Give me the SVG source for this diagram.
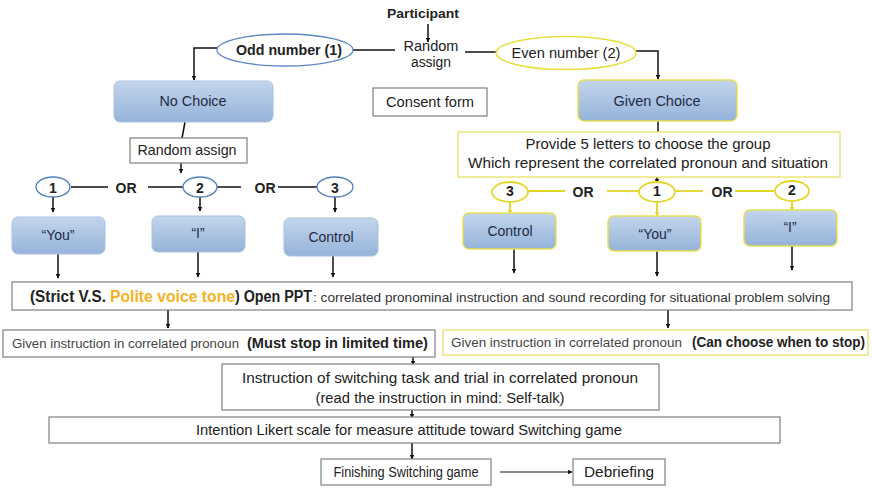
<svg xmlns="http://www.w3.org/2000/svg" width="872" height="488" viewBox="0 0 872 488">
<defs>
  <linearGradient id="blueFill" x1="0" y1="0" x2="0" y2="1">
    <stop offset="0" stop-color="#c3d5ec"/>
    <stop offset="1" stop-color="#95b3d9"/>
  </linearGradient>
  <marker id="arr" viewBox="0 0 10 10" refX="9" refY="5" markerWidth="5" markerHeight="5" orient="auto" markerUnits="userSpaceOnUse">
    <path d="M0,0 L10,5 L0,10 z" fill="#111"/>
  </marker>
  <marker id="arrY" viewBox="0 0 10 10" refX="9" refY="5" markerWidth="5" markerHeight="5" orient="auto" markerUnits="userSpaceOnUse">
    <path d="M0,0 L10,5 L0,10 z" fill="#e3d42a"/>
  </marker>
</defs>
<style>
  text { font-family: "Liberation Sans", Arial, sans-serif; fill: #222; }
  .lbl { font-size: 14px; text-anchor: middle; }
  .node { font-size: 14px; text-anchor: middle; fill: #1f2a44; }
  .b { font-weight: bold; }
  .sm { font-size: 12px; fill: #444; }
  .bluebox { fill: url(#blueFill); stroke: #a9c1e0; stroke-width: 1; }
  .ybox { fill: url(#blueFill); stroke: #e6df55; stroke-width: 1.5; }
  .plain { fill: #fff; stroke: #7f7f7f; stroke-width: 1.2; }
  .plainY { fill: #fff; stroke: #ebe57a; stroke-width: 1.5; }
  .conn line, .conn polyline { stroke: #111; stroke-width: 1.5; fill: none; }
  .conn .y { stroke: #e3d42a; stroke-width: 1.8; }
  .conn .thin { stroke-width: 1; }
  .a { marker-end: url(#arr); }
  .ay { marker-end: url(#arrY); }
</style>

<rect width="872" height="488" fill="#fff"/>

<!-- connectors -->
<g id="connectors" class="conn">
  <line class="a" x1="428" y1="24" x2="428" y2="42"/>
  <line x1="353" y1="50" x2="395" y2="50"/>
  <line x1="465" y1="52" x2="496" y2="52"/>
  <polyline class="a" points="218,48 194,48 194,80"/>
  <polyline class="a" points="635,51 658,51 658,79"/>
  <line x1="185" y1="122" x2="182" y2="138"/>
  <line class="a" x1="181" y1="163" x2="181" y2="173"/>
  <!-- left OR lines -->
  <line x1="71" y1="187" x2="108" y2="187"/>
  <line x1="148" y1="187" x2="183" y2="187"/>
  <line x1="217" y1="187" x2="241" y2="187"/>
  <line x1="278" y1="187" x2="318" y2="187"/>
  <line class="a" x1="53" y1="197" x2="53" y2="212"/>
  <line class="a" x1="200" y1="197" x2="200" y2="211"/>
  <line class="a" x1="335" y1="197" x2="335" y2="212"/>
  <line class="a" x1="58" y1="254" x2="58" y2="278"/>
  <line class="a" x1="198" y1="252" x2="198" y2="277"/>
  <line class="a" x1="333" y1="256" x2="333" y2="277"/>
  <!-- right -->
  <line x1="658" y1="121" x2="658" y2="132"/>
  <line class="a" x1="657" y1="157" x2="657" y2="183"/>
  <line class="y" x1="528" y1="191" x2="565" y2="191"/>
  <line class="y" x1="607" y1="191" x2="639" y2="191"/>
  <line class="y" x1="675" y1="191" x2="703" y2="191"/>
  <line class="y" x1="735" y1="191" x2="774" y2="191"/>
  <line class="y ay" x1="510" y1="202" x2="510" y2="214"/>
  <line class="y ay" x1="657" y1="202" x2="657" y2="216"/>
  <line class="y ay" x1="792" y1="201" x2="792" y2="211"/>
  <line class="a" x1="514" y1="249" x2="514" y2="273"/>
  <line class="a" x1="657" y1="251" x2="657" y2="276"/>
  <line class="a" x1="792" y1="246" x2="792" y2="270"/>
  <!-- lower -->
  <line class="a" x1="168" y1="310" x2="168" y2="328"/>
  <line class="a" x1="668" y1="310" x2="668" y2="328"/>
  <line class="a" x1="413" y1="357" x2="413" y2="365"/>
  <line class="a" x1="412" y1="410" x2="412" y2="418"/>
  <line class="a" x1="412" y1="443" x2="412" y2="459"/>
  <line class="a thin" x1="500" y1="472" x2="572" y2="472"/>
</g>

<g id="participant">
  <text class="lbl b" x="423" y="18" font-size="13" style="font-size:13px" textLength="72" lengthAdjust="spacingAndGlyphs">Participant</text>
</g>
<g id="random-assign-top">
  <text class="lbl" x="431" y="51" textLength="55" lengthAdjust="spacingAndGlyphs">Random</text>
  <text class="lbl" x="431" y="67" textLength="40" lengthAdjust="spacingAndGlyphs">assign</text>
</g>
<g id="odd">
  <ellipse cx="285" cy="50" rx="68" ry="16" fill="#fff" stroke="#5a88c4" stroke-width="1.3"/>
  <text class="lbl b" x="289" y="55" textLength="106" lengthAdjust="spacingAndGlyphs">Odd number (1)</text>
</g>
<g id="even">
  <ellipse cx="566" cy="53" rx="70" ry="16.5" fill="#fff" stroke="#e6df3c" stroke-width="1.5"/>
  <text class="lbl" x="566" y="58" textLength="109" lengthAdjust="spacingAndGlyphs">Even number (2)</text>
</g>
<g id="consent">
  <rect class="plain" x="373" y="88" width="114" height="28"/>
  <text class="lbl" x="430" y="107" textLength="88" lengthAdjust="spacingAndGlyphs">Consent form</text>
</g>
<g id="no-choice">
  <rect class="bluebox" x="114" y="81" width="159" height="41" rx="6"/>
  <text class="node" x="193" y="106" textLength="67" lengthAdjust="spacingAndGlyphs">No Choice</text>
</g>
<g id="given-choice">
  <rect class="ybox" x="578" y="80" width="159" height="41" rx="6"/>
  <text class="node" x="657" y="106" textLength="87" lengthAdjust="spacingAndGlyphs">Given Choice</text>
</g>
<g id="random-assign-box">
  <rect class="plain" x="130" y="138" width="117" height="25"/>
  <text class="lbl" x="187" y="155" textLength="99" lengthAdjust="spacingAndGlyphs">Random assign</text>
</g>

<!-- left choices -->
<g id="l-c1">
  <ellipse cx="53" cy="187" rx="17" ry="10" fill="#fff" stroke="#4f7fbe" stroke-width="1.3"/>
  <text class="lbl b" x="53" y="193">1</text>
</g>
<g id="l-or1"><text class="lbl b" x="126" y="193">OR</text></g>
<g id="l-c2">
  <ellipse cx="200" cy="187" rx="17" ry="10" fill="#fff" stroke="#4f7fbe" stroke-width="1.3"/>
  <text class="lbl b" x="200" y="193">2</text>
</g>
<g id="l-or2"><text class="lbl b" x="265" y="193">OR</text></g>
<g id="l-c3">
  <ellipse cx="335" cy="187" rx="18" ry="10" fill="#fff" stroke="#4f7fbe" stroke-width="1.3"/>
  <text class="lbl b" x="335" y="193">3</text>
</g>
<g id="l-you">
  <rect class="bluebox" x="12" y="217" width="93" height="37" rx="6"/>
  <text class="node" x="58" y="240">“You”</text>
</g>
<g id="l-i">
  <rect class="bluebox" x="152" y="216" width="93" height="36" rx="6"/>
  <text class="node" x="198" y="238">“I”</text>
</g>
<g id="l-control">
  <rect class="bluebox" x="284" y="218" width="94" height="38" rx="6"/>
  <text class="node" x="331" y="242">Control</text>
</g>

<!-- right choices -->
<g id="provide">
  <rect class="plainY" x="458" y="132" width="382" height="45"/>
  <text class="lbl" x="648" y="149" textLength="245" lengthAdjust="spacingAndGlyphs">Provide 5 letters to choose the group</text>
  <text class="lbl" x="648" y="168" textLength="360" lengthAdjust="spacingAndGlyphs">Which represent the correlated pronoun and situation</text>
</g>
<g id="r-c3">
  <ellipse cx="510" cy="192" rx="18" ry="10" fill="#fff" stroke="#e6d62a" stroke-width="1.8"/>
  <text class="lbl b" x="510" y="196">3</text>
</g>
<g id="r-or1"><text class="lbl b" x="583" y="197">OR</text></g>
<g id="r-c1">
  <ellipse cx="657" cy="192" rx="18" ry="10" fill="#fff" stroke="#e6d62a" stroke-width="1.8"/>
  <text class="lbl b" x="657" y="196">1</text>
</g>
<g id="r-or2"><text class="lbl b" x="722" y="197">OR</text></g>
<g id="r-c2">
  <ellipse cx="792" cy="191" rx="17" ry="10" fill="#fff" stroke="#e6d62a" stroke-width="1.8"/>
  <text class="lbl b" x="792" y="195">2</text>
</g>
<g id="r-control">
  <rect class="ybox" x="463" y="213" width="93" height="36" rx="6"/>
  <text class="node" x="510" y="236">Control</text>
</g>
<g id="r-you">
  <rect class="ybox" x="608" y="216" width="93" height="35" rx="6"/>
  <text class="node" x="655" y="239">“You”</text>
</g>
<g id="r-i">
  <rect class="ybox" x="744" y="210" width="93" height="36" rx="6"/>
  <text class="node" x="790" y="232">“I”</text>
</g>

<!-- Open PPT box -->
<g id="open-ppt">
  <rect class="plain" x="12" y="282" width="840" height="28"/>
  <text x="30" y="302" class="b" style="font-size:16px" textLength="76" lengthAdjust="spacingAndGlyphs">(Strict V.S.</text>
  <text x="110" y="302" class="b" style="font-size:16px; fill:#f5b21e" textLength="125" lengthAdjust="spacingAndGlyphs">Polite voice tone</text>
  <text x="235" y="302" class="b" style="font-size:16px" textLength="77" lengthAdjust="spacingAndGlyphs">) Open PPT</text>
  <text x="313" y="302" style="font-size:12.5px; fill:#333" textLength="517" lengthAdjust="spacingAndGlyphs">: correlated pronominal instruction and sound recording for situational problem solving</text>
</g>

<g id="given-left">
  <rect class="plain" x="3" y="330" width="432" height="27"/>
  <text x="12" y="348" class="sm" textLength="227" lengthAdjust="spacingAndGlyphs">Given instruction  in correlated pronoun</text>
  <text x="247" y="348" class="b" style="font-size:14px" textLength="181" lengthAdjust="spacingAndGlyphs">(Must stop in limited time)</text>
</g>
<g id="given-right">
  <rect class="plainY" x="443" y="330" width="425" height="25"/>
  <text x="451" y="347" class="sm" textLength="231" lengthAdjust="spacingAndGlyphs">Given instruction in correlated pronoun</text>
  <text x="692" y="347" class="b" style="font-size:14px" textLength="173" lengthAdjust="spacingAndGlyphs">(Can choose when to stop)</text>
</g>
<g id="instruction">
  <rect class="plain" x="222" y="364" width="437" height="46"/>
  <text class="lbl" x="440" y="383" textLength="396" lengthAdjust="spacingAndGlyphs">Instruction of switching task and trial in correlated pronoun</text>
  <text class="lbl" x="440" y="403" textLength="249" lengthAdjust="spacingAndGlyphs">(read the instruction in mind: Self-talk)</text>
</g>
<g id="intention">
  <rect class="plain" x="49" y="417" width="731" height="26"/>
  <text x="196" y="435" style="font-size:14px" textLength="426" lengthAdjust="spacingAndGlyphs">Intention Likert scale for  measure attitude toward Switching game</text>
</g>
<g id="finishing">
  <rect class="plain" x="321" y="459" width="170" height="26"/>
  <text class="lbl" x="406" y="477" textLength="145" lengthAdjust="spacingAndGlyphs">Finishing Switching game</text>
</g>
<g id="debriefing">
  <rect class="plain" x="573" y="459" width="92" height="26"/>
  <text class="lbl" x="619" y="477" textLength="70" lengthAdjust="spacingAndGlyphs">Debriefing</text>
</g>
</svg>
